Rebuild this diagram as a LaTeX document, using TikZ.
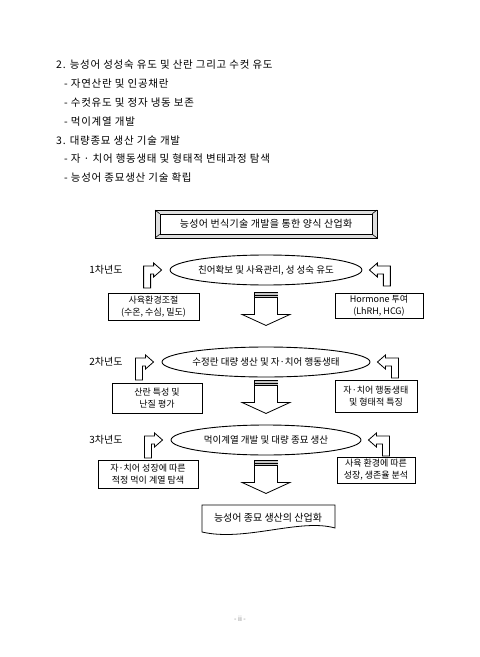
\documentclass[tikz,border=0pt]{standalone}
\usepackage{fontspec}
\setmainfont{Noto Sans CJK KR}
\newfontfamily\listfont[LetterSpace=7]{Noto Sans CJK KR}
\newfontfamily\goalfont[LetterSpace=3]{Noto Sans CJK KR}
\usepackage{tikz}
\usetikzlibrary{positioning,shapes.geometric,calc}

\tikzset{
  pics/bendright/.style={code={
    \draw[line width=0.8bp, fill=white] (0,0) -- (-8,-7) -- (-8,-4) -- (-18,-4) -- (-18,18) -- (-11,18) -- (-11,4) -- (-8,4) -- (-8,7) -- cycle;
  }},
  pics/bendleft/.style={code={
    \draw[line width=0.8bp, fill=white] (0,0) -- (8,-7) -- (8,-4) -- (21,-4) -- (21,16) -- (14,16) -- (14,4) -- (8,4) -- (8,7) -- cycle;
  }},
  pics/downblk/.style={code={
    \draw[line width=0.8bp, fill=white] (-11.5,0) -- (11.5,0) -- (11.5,#1-11) -- (24,#1-11) -- (0,#1) -- (-24,#1-11) -- (-11.5,#1-11) -- cycle;
    \fill[gray!45] (-11.5,0) rectangle (11.5,5);
    \draw[line width=0.8bp] (-11.5,0) -- (11.5,0) (-11.5,2.5) -- (11.5,2.5) (-11.5,5) -- (11.5,5);
  }}
}

\begin{document}
\begin{tikzpicture}[x=1bp, y=-1bp,
  listline/.style={anchor=west, inner sep=0pt, font=\listfont\fontsize{10.5bp}{12bp}\selectfont},
  yearlbl/.style={inner sep=0pt, font=\fontsize{10bp}{12bp}\selectfont},
  stage/.style={draw, ellipse, line width=0.9bp, minimum width=190bp, minimum height=30bp, inner sep=0pt, font=\fontsize{9.5bp}{12bp}\selectfont},
  sidebox/.style={draw, line width=0.6bp, inner sep=0pt, align=center, font=\fontsize{9bp}{12bp}\selectfont}]
\useasboundingbox (0,0) rectangle (480,657);

% text above the chart
\node[listline] (h2) at (56,65) {2. 능성어 성성숙 유도 및 산란 그리고 수컷 유도};
\node[listline] (h2a) at (64,84) {- 자연산란 및 인공채란};
\node[listline] (h2b) at (64,103) {- 수컷유도 및 정자 냉동 보존};
\node[listline] (h2c) at (64,122) {- 먹이계열 개발};
\node[listline] (h3) at (56,141) {3. 대량종묘 생산 기술 개발};
\node[listline] (h3a) at (64,159) {- 자 · 치어 행동생태 및 형태적 변태과정 탐색};
\node[listline] (h3b) at (64,178) {- 능성어 종묘생산 기술 확립};

% bevelled goal box
\fill[gray!25] (155,210) rectangle (377,238);
\draw[line width=0.8bp] (155,210) rectangle (377,238);
\node[draw, fill=white, line width=0.6bp, minimum width=212bp, minimum height=20bp, inner sep=0pt, font=\goalfont\fontsize{10bp}{12bp}\selectfont] (goal) at (266,224) {능성어 번식기술 개발을 통한 양식 산업화};
\draw[line width=0.6bp] (155,210) -- (goal.north west) (377,210) -- (goal.north east) (155,238) -- (goal.south west) (377,238) -- (goal.south east);

% 1st year
\node[yearlbl] (yr1) at (106,270) {1차년도};
\node[stage] (e1) at (266,270) {친어확보 및 사육관리, 성 성숙 유도};
\pic at ($(e1.west)+(-8,0)$) {bendright};
\pic at ($(e1.east)+(7,0)$) {bendleft};
\node[sidebox, minimum width=91bp, minimum height=27bp] (l1) at (153.5,306.5) {사육환경조절\\(수온, 수심, 밀도)};
\node[sidebox, minimum width=88bp, minimum height=25bp] (r1) at (379,305.5) {Hormone 투여\\(LhRH, HCG)};
\pic at ($(e1.south)+(0,7)$) {downblk=33};

% 2nd year
\node[yearlbl] (yr2) at (106,362) {2차년도};
\node[stage] (e2) at (266,362) {수정란 대량 생산 및 자·치어 행동생태};
\pic at ($(e2.west)+(-8,0)$) {bendright};
\pic at ($(e2.east)+(7,0)$) {bendleft};
\node[sidebox, minimum width=90bp, minimum height=30bp] (l2) at (157,398) {산란 특성 및\\난질 평가};
\node[sidebox, minimum width=82bp, minimum height=32bp] (r2) at (376,396) {자·치어 행동생태\\및 형태적 특징};
\pic at ($(e2.south)+(0,3)$) {downblk=33};

% 3rd year
\node[yearlbl] (yr3) at (106,440) {3차년도};
\node[stage] (e3) at (266,440) {먹이계열 개발 및 대량 종묘 생산};
\pic at ($(e3.west)+(-8,0)$) {bendright};
\pic at ($(e3.east)+(7,0)$) {bendleft};
\node[sidebox, minimum width=100bp, minimum height=28bp] (l3) at (148,474) {자·치어 성장에 따른\\적정 먹이 계열 탐색};
\node[sidebox, minimum width=78bp, minimum height=26bp] (r3) at (376,470) {사육 환경에 따른\\성장, 생존율 분석};
\pic at ($(e3.south)+(0,5)$) {downblk=33};

% final document box
\draw[line width=0.8bp] (202,505) -- (335,505) -- (335,528) .. controls (300,518) and (245,542) .. (202,532) -- cycle;
\node[inner sep=0pt, font=\fontsize{10bp}{12bp}\selectfont] (final) at (268,518) {능성어 종묘 생산의 산업화};

% page number
\node[text=gray, inner sep=0pt, font=\fontsize{7bp}{8bp}\selectfont] (pg) at (240,619) {- ii -};
\end{tikzpicture}
\end{document}
